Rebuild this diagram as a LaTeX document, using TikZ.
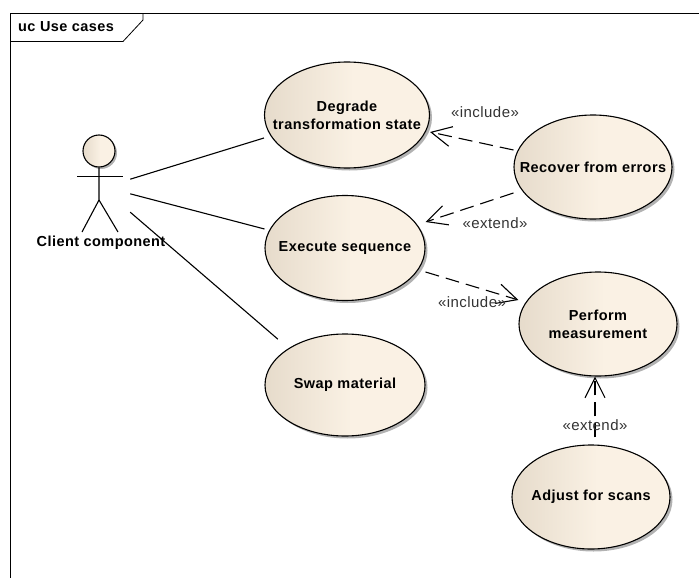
\documentclass[tikz,border=0pt]{standalone}
\usepackage{fontspec}
\setmainfont[LetterSpace=3]{Liberation Sans}
\usetikzlibrary{positioning,arrows.meta,shapes.geometric,shadows}
\definecolor{ucdark}{HTML}{E6DBCB}
\definecolor{uclight}{HTML}{FAF1E4}
\definecolor{stereogray}{HTML}{333333}
\pgfdeclarehorizontalshading{usecaseshade}{100bp}{color(0bp)=(ucdark); color(25bp)=(ucdark); color(52bp)=(uclight); color(100bp)=(uclight)}
\tikzset{
	usecase/.style={ellipse, draw=black, line width=1.1pt, shading=usecaseshade, inner xsep=-25pt, inner ysep=0pt,
		minimum width=158pt, minimum height=104pt, align=center, font=\fontsize{14.5}{18}\selectfont\bfseries,
		drop shadow={shadow xshift=2.5pt, shadow yshift=-2.5pt, fill=black, opacity=.3}},
	assoc/.style={line width=1.1pt},
	depend/.style={line width=1.1pt, dash pattern=on 14pt off 7pt, -{Straight Barb[length=20pt, width=20pt, line width=1.1pt]}},
	stereo/.style={font=\fontsize{15}{18}\selectfont, text=stereogray, inner sep=0pt},
}
\begin{document}
\begin{tikzpicture}[x=1pt, y=-1pt]
	\useasboundingbox (0,0) rectangle (699,578);
	% frame
	\draw[line width=.8pt] (10.5,578) -- (10.5,13.5) -- (699,13.5);
	\draw[line width=.8pt] (10.5,41.5) -- (123,41.5) -- (143,20) -- (143,13.5);
	\node[anchor=west, inner sep=0pt, font=\fontsize{14.5}{18}\selectfont\bfseries] (title) at (18,27) {uc Use cases};

	% use cases
	\node[usecase, minimum width=165pt, minimum height=106pt] (degrade) at (347,115) {Degrade\\transformation state};
	\node[usecase, minimum width=160pt, minimum height=105pt] (execute) at (345,248) {Execute sequence};
	\node[usecase, minimum width=160pt, minimum height=102pt] (swap) at (345,385) {Swap material};
	\node[usecase] (recover) at (593,167) {Recover from errors};
	\node[usecase] (perform) at (598,324) {Perform\\measurement};
	\node[usecase] (adjust) at (591,497) {Adjust for scans};

	% actor
	\node[circle, draw=black, line width=1.1pt, shading=usecaseshade, minimum size=32pt, inner sep=0pt,
		drop shadow={shadow xshift=2pt, shadow yshift=-2pt, fill=black, opacity=.3}] (head) at (99,151) {};
	\node[minimum width=60pt, minimum height=98pt, inner sep=0pt] (client) at (100,184) {};
	\draw[assoc] (head.south) -- (99,200) -- (82,232);
	\draw[assoc] (99,200) -- (118,232);
	\draw[assoc] (77,176.5) -- (123,176.5);
	\node[font=\fontsize{14.5}{18}\selectfont\bfseries, inner sep=0pt] (clientname) at (101,243) {Client component};

	% associations
	\draw[assoc] (client.9.5) -- ([yshift=-23pt]degrade.west);
	\draw[assoc] (client.-18.4) -- ([yshift=19pt]execute.west);
	\draw[assoc, shorten >=14pt] (client.-43) -- (swap.147);

	% dependencies
	\draw[depend] ([yshift=17pt]recover.west) -- ([yshift=-17pt]degrade.east);
	\draw[depend] ([yshift=-26pt]recover.west) -- ([yshift=26pt]execute.east);
	\draw[depend] ([yshift=-24pt]execute.east) -- ([yshift=24pt]perform.west);
	\draw[depend] ([xshift=4pt, yshift=7pt]adjust.north) -- ([xshift=-3pt]perform.south);

	\node[stereo] (inc1) at (485,112) {«include»};
	\node[stereo] (ext1) at (495,223) {«extend»};
	\node[stereo] (inc2) at (472,302) {«include»};
	\node[stereo] (ext2) at (595,425) {«extend»};
\end{tikzpicture}
\end{document}
